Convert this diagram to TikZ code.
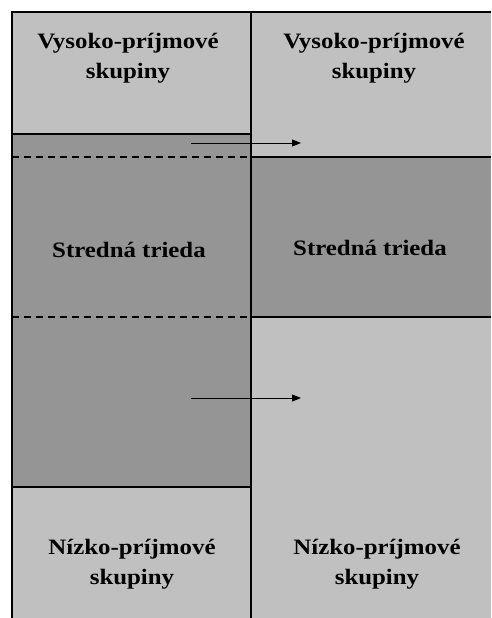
\documentclass[tikz,border=0pt]{standalone}
\usepackage{fontspec}
\setmainfont{Liberation Serif}
\newfontfamily\bandfont[FakeStretch=1.13]{Liberation Serif}
\usepackage{xcolor}
\usetikzlibrary{arrows.meta,positioning}
\definecolor{lightband}{HTML}{C0C0C0}
\definecolor{darkband}{HTML}{959595}

\begin{document}
\begin{tikzpicture}[
    x=1pt, y=-1pt,
    band/.style={draw=black, line width=1.1pt},
    label/.style={align=center, font=\bandfont\fontsize{22}{30}\selectfont\bfseries, inner sep=0pt},
    arrow/.style={-{Triangle[length=9pt, width=7pt]}, line width=1pt},
    split/.style={dashed, dash pattern=on 7pt off 5pt, line width=1.1pt}
]
\useasboundingbox (0,0) rectangle (491,618);
% fills of the two columns
\fill[lightband] (12,12) rectangle (251,134);
\fill[darkband] (12,134) rectangle (251,487);
\fill[lightband] (12,487) rectangle (251,618);
\fill[lightband] (251,12) rectangle (491,157);
\fill[darkband] (251,157) rectangle (491,317);
\fill[lightband] (251,317) rectangle (491,618);
% frame and borders
\draw[band] (491,12) -- (12,12) -- (12,618);
\draw[band] (251,12) -- (251,618);
\draw[band] (12,134) -- (251,134);
\draw[band] (12,487) -- (251,487);
\draw[band] (251,157) -- (491,157);
\draw[band] (251,317) -- (491,317);
\draw[split] (12,157) -- (251,157);
\draw[split] (12,317) -- (251,317);
% labels
\node[label] (highL) at (128,58) {Vysoko-príjmové\\skupiny};
\node[label] (highR) at (374,58) {Vysoko-príjmové\\skupiny};
\node[label] (midL) at (129,250) {Stredná trieda};
\node[label] (midR) at (370,248) {Stredná trieda};
\node[label] (lowL) at (132,564) {Nízko-príjmové\\skupiny};
\node[label] (lowR) at (377,564) {Nízko-príjmové\\skupiny};
% shifts
\coordinate (upFrom) at (191,143);
\coordinate (upTo) at (301,143);
\coordinate (downFrom) at (191,398);
\coordinate (downTo) at (301,398);
\draw[arrow] (upFrom) -- (upTo);
\draw[arrow] (downFrom) -- (downTo);
\end{tikzpicture}
\end{document}
